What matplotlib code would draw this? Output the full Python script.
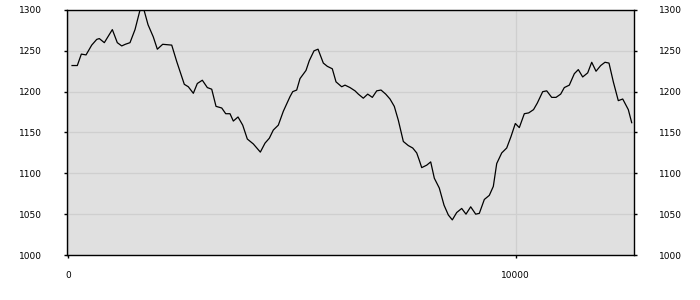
import numpy as np
import matplotlib.pyplot as plt

# distance (m) and elevation (m)
distance = [83, 201, 291, 396, 523, 635, 693, 805, 984, 1095, 1194, 1274, 1379, 1491,
            1603, 1692, 1782, 1900, 1990, 2110, 2312, 2423, 2593, 2683, 2795, 2884,
            2996, 3108, 3206, 3302, 3430, 3519, 3615, 3689, 3794, 3899, 4002, 4136,
            4293, 4398, 4494, 4583, 4695, 4807, 4957, 5017, 5106, 5180, 5314, 5388,
            5493, 5583, 5701, 5791, 5902, 5985, 6112, 6186, 6298, 6410, 6484, 6595,
            6694, 6797, 6895, 6991, 7096, 7192, 7288, 7378, 7490, 7601, 7700, 7789,
            7847, 7901, 8013, 8102, 8183, 8294, 8400, 8496, 8585, 8683, 8795, 8891,
            8996, 9108, 9189, 9301, 9412, 9502, 9578, 9690, 9801, 9897, 9994, 10083,
            10195, 10293, 10401, 10485, 10606, 10696, 10807, 10904, 11008, 11089,
            11201, 11313, 11402, 11500, 11612, 11702, 11798, 11903, 11999, 12088,
            12185, 12296, 12395, 12520, 12596]
elevation = [1232, 1232, 1246, 1245, 1257, 1264, 1265, 1260, 1276, 1260, 1256, 1258,
             1260, 1276, 1300, 1300, 1282, 1267, 1252, 1258, 1257, 1237, 1209, 1206,
             1198, 1210, 1214, 1205, 1203, 1182, 1180, 1173, 1173, 1164, 1169, 1159,
             1142, 1136, 1126, 1137, 1143, 1153, 1159, 1176, 1194, 1200, 1202, 1216,
             1226, 1238, 1250, 1252, 1235, 1231, 1228, 1212, 1206, 1208, 1205, 1201,
             1197, 1192, 1197, 1193, 1201, 1202, 1197, 1191, 1182, 1165, 1139, 1134,
             1131, 1125, 1116, 1107, 1110, 1114, 1094, 1082, 1061, 1049, 1043, 1052,
             1057, 1050, 1059, 1050, 1051, 1068, 1073, 1084, 1112, 1125, 1131, 1145,
             1161, 1156, 1173, 1174, 1178, 1186, 1200, 1201, 1193, 1193, 1197, 1205,
             1208, 1222, 1227, 1218, 1223, 1236, 1225, 1232, 1236, 1235, 1212, 1189,
             1191, 1178, 1162]
x_ticks = [0, 10000]
y_ticks = [1000, 1050, 1100, 1150, 1200, 1250, 1300]

fig = plt.figure(figsize=(7, 3), dpi=100)
ax = fig.add_axes([0.0953, 0.15, 0.8104, 0.8167])
ax.set_facecolor('#e0e0e0')
ax.plot(distance, elevation, color='black', lw=0.9)

ax.set_xlim(-36, 12647)
ax.set_ylim(1000, 1300)
ax.set_xticks(x_ticks)
ax.set_yticks(y_ticks)
ax.grid(True, color='#cfcfcf', lw=0.9)
ax.set_axisbelow(True)

for s in ax.spines.values():
    s.set_linewidth(1.0)
    s.set_color('black')

ax.tick_params(axis='y', which='both', left=True, right=True, labelleft=True,
               labelright=True, length=2, width=1, labelsize=6.5, pad=16)
ax.tick_params(axis='x', length=2.5, width=1, labelsize=6.5, pad=9)

fig.savefig('out.png', dpi=100)
